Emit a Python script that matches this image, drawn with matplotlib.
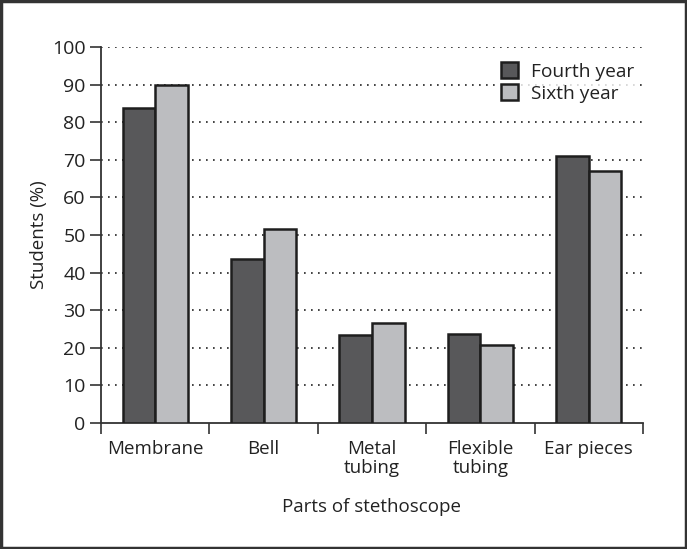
import matplotlib
matplotlib.use("Agg")
import matplotlib.pyplot as plt
import numpy as np
from matplotlib.patches import Rectangle

categories = ["Membrane", "Bell", "Metal\ntubing", "Flexible\ntubing", "Ear pieces"]
fourth_year = [83.8, 43.5, 23.4, 23.6, 70.9]
sixth_year = [90.0, 51.7, 26.6, 20.8, 66.9]
series_names = ["Fourth year", "Sixth year"]
yticks = list(range(0, 101, 10))

plt.rcParams['font.family'] = ['Open Sans', 'DejaVu Sans']

fig = plt.figure(figsize=(6.87, 5.49), dpi=100)
ax = fig.add_axes([101/687, 126/549, 542/687, 376/549])

x = np.arange(len(categories))
w = 0.3
dark = "#58585a"
light = "#bcbdc0"
edge = "#1e1e1e"
ax.bar(x - w/2, fourth_year, w, color=dark, edgecolor=edge, linewidth=1.8, label=series_names[0], zorder=3)
ax.bar(x + w/2, sixth_year, w, color=light, edgecolor=edge, linewidth=1.8, label=series_names[1], zorder=3)

ax.set_xlim(-0.5, len(categories) - 0.5)
ax.set_ylim(0, 100)
ax.set_yticks(yticks)
for t in yticks[1:]:
    ax.axhline(t, color="#222222", linestyle=(0, (1, 3.2)), linewidth=1.2, zorder=1)

ax.set_xticks(x)
ax.set_xticklabels(categories, fontsize=13.5, color="#222222", linespacing=1.1)
ax.set_xticks(np.arange(len(categories) + 1) - 0.5, minor=True)
ax.tick_params(axis='x', which='major', length=0, pad=12)
ax.tick_params(axis='x', which='minor', length=8, width=1.2, color="#333333")
ax.tick_params(axis='y', length=8, width=1.2, color="#333333", labelsize=14, labelcolor="#222222", pad=3)

for s in ["top", "right"]:
    ax.spines[s].set_visible(False)
for s in ["left", "bottom"]:
    ax.spines[s].set_linewidth(1.3)
    ax.spines[s].set_color("#333333")

ax.set_ylabel("Students (%)", fontsize=13.5, color="#222222")
ax.yaxis.set_label_coords(-53/542, 0.5)
ax.set_xlabel("Parts of stethoscope", fontsize=13.5, color="#222222", labelpad=15)

leg = ax.legend(loc="upper right", bbox_to_anchor=(1.012, 1.0), frameon=True, fontsize=13.8,
                handlelength=0.85, handleheight=0.85, handletextpad=0.7, labelspacing=0.2,
                borderpad=0.3, fancybox=False)
leg.get_frame().set_facecolor("white")
leg.get_frame().set_edgecolor("none")
leg.set_zorder(5)
for t in leg.get_texts():
    t.set_color("#222222")

fig.patches.append(Rectangle((0.002, 0.002), 0.996, 0.996, transform=fig.transFigure,
                             fill=False, edgecolor="#333333", linewidth=2.5))

fig.savefig("out.png", dpi=100)
